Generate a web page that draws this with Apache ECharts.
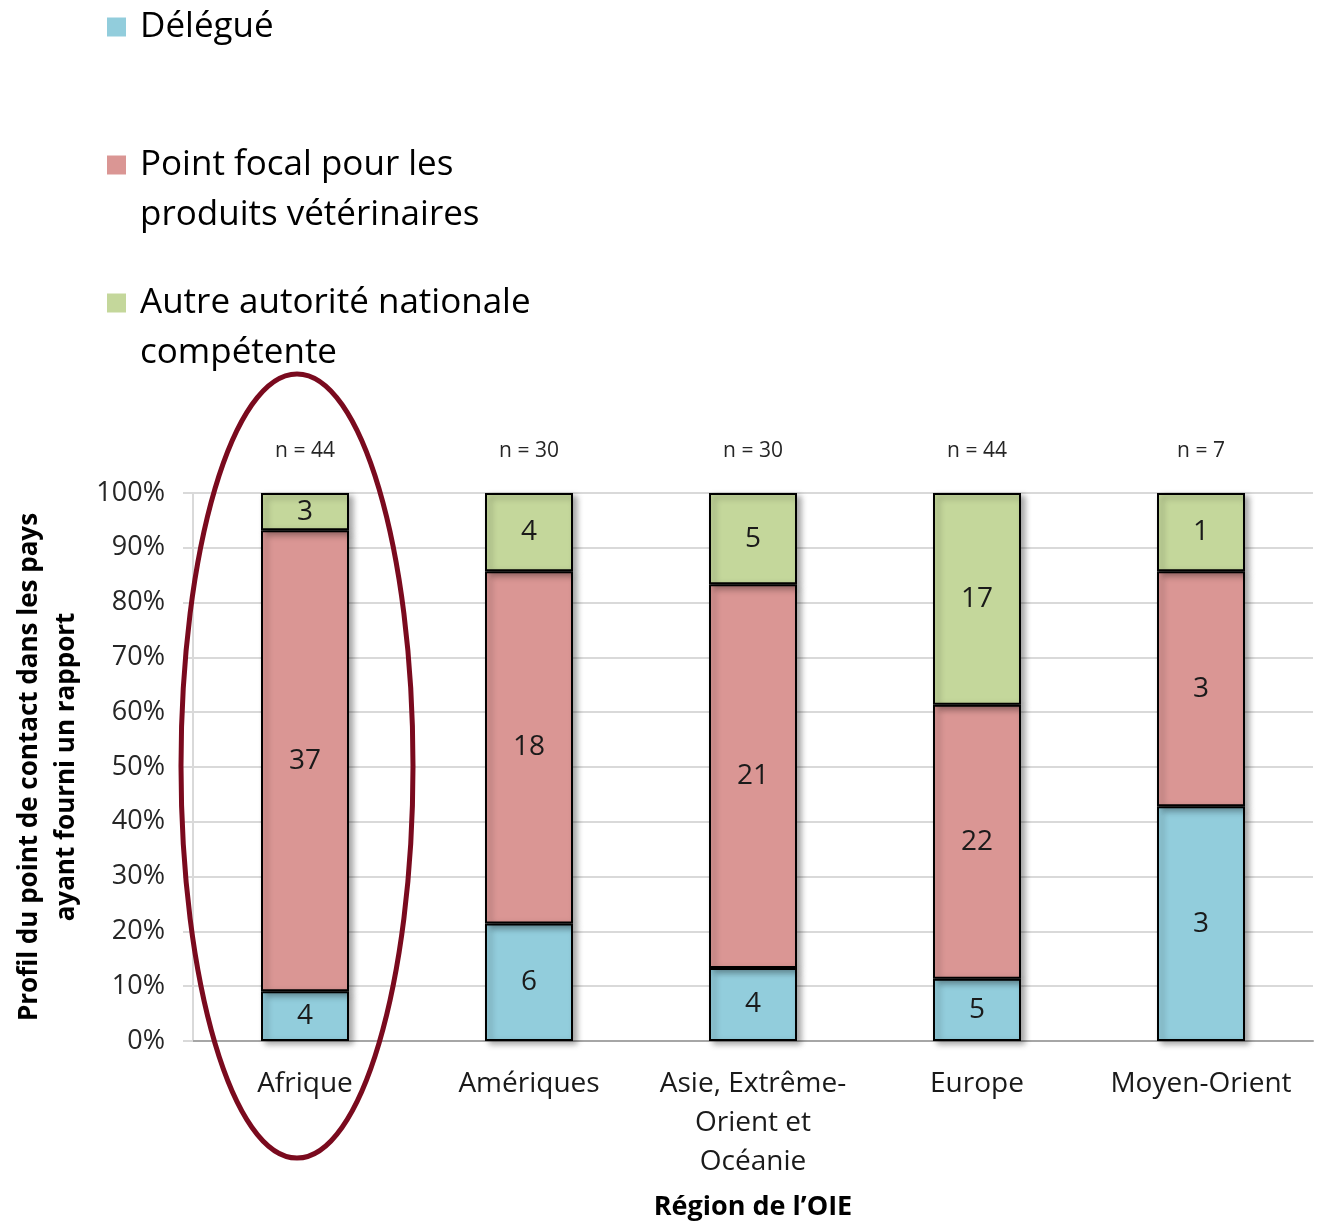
<!DOCTYPE html>
<html>
<head>
<meta charset="utf-8">
<script src="https://cdn.jsdelivr.net/npm/echarts@6/dist/echarts.min.js"></script>
<style>
  html, body { margin: 0; padding: 0; background: #fff; }
  #main { width: 1323px; height: 1221px; }
</style>
</head>
<body>
<div id="main"></div>
<script>
var regions = ['Afrique', 'Amériques', 'Asie, Extrême-\nOrient et\nOcéanie', 'Europe', 'Moyen-Orient'];
var nLabels = [44, 30, 30, 44, 7];
var delegue = [4, 6, 4, 5, 3];
var pointFocal = [37, 18, 21, 22, 3];
var autre = [3, 4, 5, 17, 1];
var yTicks = [0, 10, 20, 30, 40, 50, 60, 70, 80, 90, 100];

var font = 'Open Sans';
var totals = regions.map(function (r, i) { return delegue[i] + pointFocal[i] + autre[i]; });

function pct(arr) {
    return arr.map(function (v, i) { return { value: v / totals[i] * 100, count: v }; });
}

function barSeries(name, arr, color) {
    return {
        name: name,
        type: 'bar',
        stack: 'total',
        barWidth: 88,
        data: pct(arr),
        itemStyle: {
            color: color,
            borderColor: '#000',
            borderWidth: 2,
            shadowBlur: 6,
            shadowOffsetX: 4,
            shadowOffsetY: 3,
            shadowColor: 'rgba(0,0,0,0.35)'
        },
        label: {
            show: true,
            position: 'inside',
            fontFamily: font,
            fontSize: 28,
            color: '#1a1a1a',
            formatter: function (p) { return p.data.count; }
        }
    };
}

// une ligne vide en tête pour aligner le carré sur la première ligne
function legendBox(name, top, twoLines) {
    return {
        data: [name],
        orient: 'vertical',
        left: 107,
        top: top,
        padding: 0,
        itemWidth: 19,
        itemHeight: 19,
        icon: 'rect',
        selectedMode: false,
        itemStyle: { borderWidth: 0, shadowBlur: 0, shadowOffsetX: 0, shadowOffsetY: 0 },
        formatter: function (n) { return twoLines ? '\n' + n : n; },
        textStyle: {
            fontFamily: font,
            fontSize: 35,
            color: '#000',
            lineHeight: 50,
            padding: [0, 0, 0, 9]
        }
    };
}

var myChart = echarts.init(document.getElementById('main'));
var option = {
    backgroundColor: '#fff',
    animation: false,
    legend: [
        legendBox('Délégué', 2, false),
        legendBox('Point focal pour les\nproduits vétérinaires', 90, true),
        legendBox('Autre autorité nationale\ncompétente', 228, true)
    ],
    grid: { left: 193, right: 10, top: 493, bottom: 180, outerBoundsMode: 'none', containLabel: false },
    xAxis: [{
        type: 'category',
        data: regions,
        name: 'Région de l’OIE',
        nameLocation: 'middle',
        nameGap: 153,
        nameTextStyle: { fontFamily: font, fontSize: 27, fontWeight: 'bold', color: '#000' },
        axisLine: { lineStyle: { color: '#a6a6a6', width: 2 } },
        axisTick: { length: 8, lineStyle: { color: '#a6a6a6', width: 2 } },
        axisLabel: { fontFamily: font, fontSize: 28, color: '#1a1a1a', margin: 24, lineHeight: 39, interval: 0 }
    }, {
        type: 'category',
        position: 'top',
        data: nLabels.map(function (n) { return 'n = ' + n; }),
        axisLine: { show: false },
        axisTick: { show: false },
        axisLabel: { fontFamily: font, fontSize: 21, color: '#262626', margin: 31, interval: 0 }
    }],
    yAxis: {
        type: 'value',
        min: yTicks[0],
        max: yTicks[yTicks.length - 1],
        interval: 10,
        name: 'Profil du point de contact dans les pays\nayant fourni un rapport',
        nameLocation: 'middle',
        nameRotate: 90,
        nameGap: 106,
        nameTextStyle: { fontFamily: font, fontSize: 26, fontWeight: 'bold', color: '#000', lineHeight: 37 },
        axisLine: { show: true, lineStyle: { color: '#d9d9d9', width: 2 } },
        axisTick: { show: true, length: 10, lineStyle: { color: '#d9d9d9', width: 2 } },
        axisLabel: { fontFamily: font, fontSize: 27, color: '#262626', margin: 28, formatter: '{value}%' },
        splitLine: { lineStyle: { color: '#d9d9d9', width: 2 } }
    },
    series: [
        barSeries('Délégué', delegue, '#92cddc'),
        barSeries('Point focal pour les\nproduits vétérinaires', pointFocal, '#da9694'),
        barSeries('Autre autorité nationale\ncompétente', autre, '#c4d79b')
    ],
    graphic: [{
        type: 'ellipse',
        shape: { cx: 297, cy: 766, rx: 116, ry: 392 },
        style: { fill: 'none', stroke: '#7a0a1e', lineWidth: 5 },
        z: 100
    }]
};
myChart.setOption(option);
</script>
</body>
</html>
